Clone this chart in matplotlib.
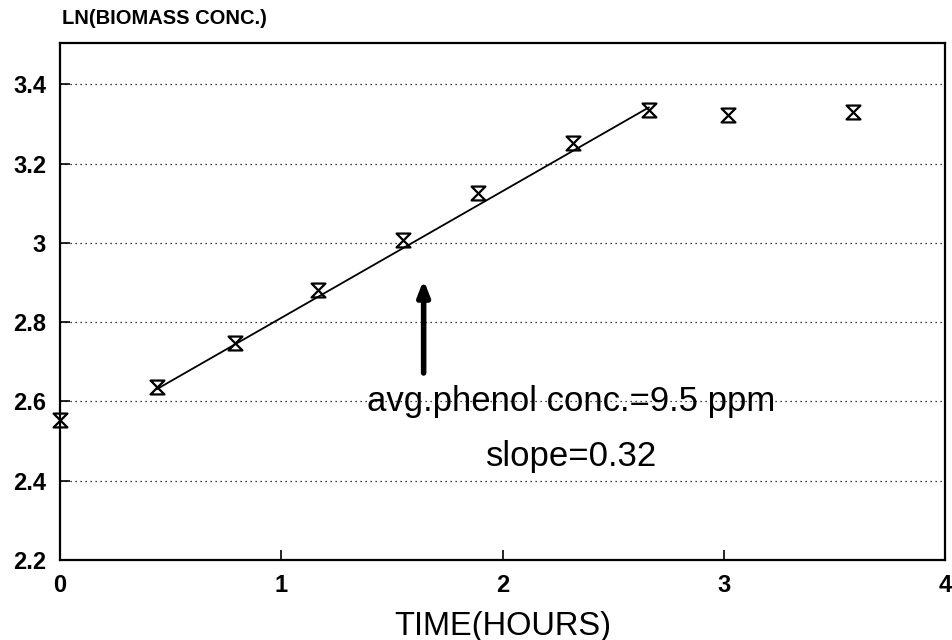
import matplotlib.pyplot as plt
from matplotlib.path import Path

plt.rcParams['font.family'] = ['Liberation Sans', 'DejaVu Sans']

# measured points: time (hours) vs ln(biomass conc.)
time_h = [0.0, 0.44, 0.79, 1.165, 1.55, 1.89, 2.32, 2.66, 3.02, 3.585]
ln_biomass = [2.553, 2.637, 2.748, 2.882, 3.008, 3.127, 3.253, 3.336, 3.324, 3.331]

# fitted line over the exponential phase
fit_x = [0.44, 2.66]
fit_y = [2.632, 3.342]

# arrow (x, y_tail, y_tip)
arrow_x = 1.643
arrow_y = [2.672, 2.907]

y_ticks = [2.2, 2.4, 2.6, 2.8, 3.0, 3.2, 3.4]
y_tick_labels = ["2.2", "2.4", "2.6", "2.8", "3", "3.2", "3.4"]
x_ticks = [0, 1, 2, 3, 4]

fig = plt.figure(figsize=(9.52, 6.4), dpi=100)
ax = fig.add_axes([0.063, 0.125, 0.93, 0.808])

# hourglass marker
hourglass = Path([(-1, 1), (1, 1), (-1, -1), (1, -1), (-1, 1)],
                 [Path.MOVETO, Path.LINETO, Path.LINETO, Path.LINETO, Path.CLOSEPOLY])

ax.plot(fit_x, fit_y, color='black', lw=1.3, zorder=3)
ax.plot(time_h, ln_biomass, linestyle='none', marker=hourglass, markersize=10,
        markerfacecolor='none', markeredgecolor='black', markeredgewidth=1.6,
        clip_on=False, zorder=4)

ax.annotate('', xy=(arrow_x, arrow_y[1]), xytext=(arrow_x, arrow_y[0]),
            arrowprops=dict(arrowstyle='-|>,head_width=0.35,head_length=0.9',
                            color='black', lw=4, shrinkA=0, shrinkB=0))

ax.text(2.31, 2.6, "avg.phenol conc.=9.5 ppm", fontsize=25, ha='center', va='center')
ax.text(2.31, 2.46, "slope=0.32", fontsize=25, ha='center', va='center')

ax.set_xlim(0, 4)
ax.set_ylim(2.2, 3.505)
ax.set_xticks(x_ticks)
ax.set_yticks(y_ticks)
ax.set_yticklabels(y_tick_labels)
for lbl in ax.get_xticklabels() + ax.get_yticklabels():
    lbl.set_fontweight('bold')
ax.tick_params(axis='both', direction='in', length=7, width=1.2, labelsize=17)
ax.tick_params(axis='y', pad=10)
ax.tick_params(axis='x', pad=10)

for y in y_ticks[1:]:
    ax.axhline(y, color='black', lw=0.9, linestyle=(0, (1, 3)), zorder=1)

for s in ax.spines.values():
    s.set_linewidth(1.6)

ax.set_xlabel("TIME(HOURS)", fontsize=23.5, labelpad=10)
fig.text(0.065, 1 - 18 / 640, "LN(BIOMASS CONC.)", fontsize=14.5, fontweight='bold',
         ha='left', va='center')

fig.savefig("out.png", dpi=100)
